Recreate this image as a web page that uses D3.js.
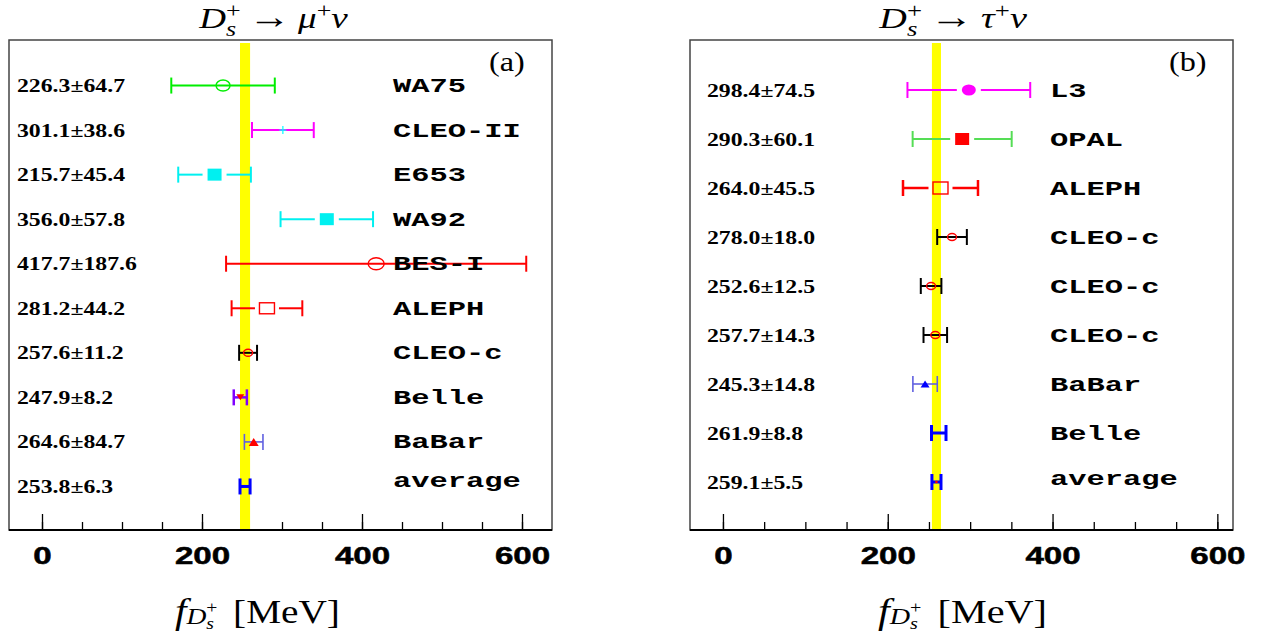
<!DOCTYPE html>
<html><head><meta charset="utf-8">
<script src="https://cdn.jsdelivr.net/npm/d3@7"></script>
<style>body{margin:0;background:#fff}svg{display:block}</style>
</head><body>
<svg id="c" width="1266" height="634"></svg>
<script>
// ---------- data: panel (a)  Ds -> mu nu ----------
const muExperiments = ["WA75","CLEO-II","E653","WA92","BES-I","ALEPH","CLEO-c","Belle","BaBar","average"];
const muValues = [226.3,301.1,215.7,356.0,417.7,281.2,257.6,247.9,264.6,253.8];
const muErrors = [64.7,38.6,45.4,57.8,187.6,44.2,11.2,8.2,11.6,6.3];
const muLabels = ["226.3±64.7","301.1±38.6","215.7±45.4","356.0±57.8","417.7±187.6","281.2±44.2","257.6±11.2","247.9±8.2","264.6±84.7","253.8±6.3"];
const muAverage = [253.8, 6.3];

// ---------- data: panel (b)  Ds -> tau nu ----------
const tauExperiments = ["L3","OPAL","ALEPH","CLEO-c","CLEO-c","CLEO-c","BaBar","Belle","average"];
const tauValues = [298.4,290.3,264.0,278.0,252.6,257.7,245.3,261.9,259.1];
const tauErrors = [74.5,60.1,45.5,18.0,12.5,14.3,14.8,8.8,5.5];
const tauLabels = ["298.4±74.5","290.3±60.1","264.0±45.5","278.0±18.0","252.6±12.5","257.7±14.3","245.3±14.8","261.9±8.8","259.1±5.5"];
const tauAverage = [259.1, 5.5];

const tickValues = [0,200,400,600];
const minorTickValues = [0,50,100,150,200,250,300,350,400,450,500,550,600];

// ---------- styles ----------
const muStyles = [
  {c:"#00ee00", w:2, m:"openCircle", mc:"#00ee00", mw:14, mh:11},
  {c:"#ff00ff", w:2, m:"cross", mc:"#00ffff", mw:7, mh:8},
  {c:"#00f0f0", w:2, m:"filledSquare", mc:"#00f0f0", mw:14, mh:12, gap:true},
  {c:"#00f0f0", w:2, m:"filledSquare", mc:"#00f0f0", mw:14, mh:12, gap:true},
  {c:"#ff0000", w:2, m:"openCircle", mc:"#ff0000", mw:16, mh:12},
  {c:"#ff0000", w:2, m:"openSquare", mc:"#ff0000", mw:15, mh:11, gap:true},
  {c:"#000000", w:2, m:"openCircle", mc:"#ff0000", mw:9, mh:7},
  {c:"#8000ff", w:2.5, m:"triDown", mc:"#ff0000", mw:8, mh:6},
  {c:"#6060e0", w:1.6, m:"triUp", mc:"#ff0000", mw:10, mh:8},
  {c:"#0000ff", w:3, m:"none"}
];
const tauStyles = [
  {c:"#ff00ff", w:2, m:"filledCircle", mc:"#ff00ff", mw:14, mh:11, gap:true},
  {c:"#55dd55", w:2, m:"filledSquare", mc:"#ff0000", mw:14, mh:12, gap:true},
  {c:"#ff0000", w:2.5, m:"openSquare", mc:"#ff0000", mw:15, mh:12, gap:true},
  {c:"#000000", w:2, m:"openCircle", mc:"#ff0000", mw:9, mh:7},
  {c:"#000000", w:2, m:"openCircle", mc:"#ff0000", mw:9, mh:7},
  {c:"#000000", w:2, m:"openCircle", mc:"#ff0000", mw:9, mh:7},
  {c:"#6060e0", w:1.6, m:"triUp", mc:"#0000ff", mw:9, mh:7},
  {c:"#0000ff", w:3, m:"none"},
  {c:"#0000ff", w:3, m:"dot", mc:"#ff0000", mw:4, mh:4}
];

const svg = d3.select("#c");
const SERIF = "'Liberation Serif','Times New Roman',serif";

function drawMarker(g, s, cx, cy) {
  const rx = s.mw/2, ry = s.mh/2;
  switch (s.m) {
    case "openCircle":
      g.append("ellipse").attr("cx",cx).attr("cy",cy).attr("rx",rx).attr("ry",ry)
        .attr("fill","none").attr("stroke",s.mc).attr("stroke-width",1.4); break;
    case "filledCircle":
      g.append("ellipse").attr("cx",cx).attr("cy",cy).attr("rx",rx).attr("ry",ry).attr("fill",s.mc); break;
    case "filledSquare":
      g.append("rect").attr("x",cx-rx).attr("y",cy-ry).attr("width",s.mw).attr("height",s.mh).attr("fill",s.mc); break;
    case "openSquare":
      g.append("rect").attr("x",cx-rx).attr("y",cy-ry).attr("width",s.mw).attr("height",s.mh)
        .attr("fill","none").attr("stroke",s.mc).attr("stroke-width",1.4); break;
    case "triUp":
      g.append("path").attr("d",`M${cx-rx},${cy+ry}L${cx+rx},${cy+ry}L${cx},${cy-ry}Z`).attr("fill",s.mc); break;
    case "triDown":
      g.append("path").attr("d",`M${cx-rx},${cy-ry}L${cx+rx},${cy-ry}L${cx},${cy+ry}Z`).attr("fill",s.mc); break;
    case "cross":
      g.append("line").attr("x1",cx-rx).attr("x2",cx+rx).attr("y1",cy).attr("y2",cy).attr("stroke",s.mc).attr("stroke-width",1.2);
      g.append("line").attr("x1",cx).attr("x2",cx).attr("y1",cy-ry).attr("y2",cy+ry).attr("stroke",s.mc).attr("stroke-width",1.2); break;
    case "dot":
      g.append("circle").attr("cx",cx).attr("cy",cy).attr("r",rx/1.5).attr("fill",s.mc); break;
  }
}

// math-text layout (one <text>, tspans) with sub/superscript stacks, fitted to a target width
function mathText(parent, pieces, size, x0, x1, baseline) {
  const g = parent.append("g");
  const text = g.append("text").attr("font-family",SERIF).attr("fill","#000");
  let x = 0, stackX = null, stackW = 0;
  pieces.forEach(p => {
    if (p.space) { x += p.space*size; return; }
    const fs = size*(p.size||1);
    const startX = (p.stack === "cont") ? stackX : x;
    const t = text.append("tspan").attr("x",startX).attr("y",(p.dy||0)*size)
      .attr("font-size",fs).attr("font-style",p.it?"italic":"normal").text(p.t);
    const w = t.node().getComputedTextLength();
    if (p.stack === "start") { stackX = x; stackW = w; x = stackX + w; }
    else if (p.stack === "cont") { stackW = Math.max(stackW, w); x = stackX + stackW; }
    else x += w;
  });
  const bb = g.node().getBBox();
  const k = (x1 - x0) / bb.width;
  g.attr("transform",`translate(${x0 - bb.x*k},${baseline}) scale(${k},1)`);
}

function drawPanel(cfg) {
  const g = svg.append("g");
  const n = cfg.values.length;
  const x = d3.scaleLinear().domain(cfg.xDomain).range([cfg.left, cfg.right]);
  const y = d3.scaleLinear().domain([0, n+1]).range([cfg.bottom+1, cfg.top+1]);
  const rowY = i => y(n - i);

  // frame
  g.append("rect").attr("x",cfg.left).attr("y",cfg.top).attr("width",cfg.right-cfg.left)
    .attr("height",cfg.bottom-cfg.top).attr("fill","none").attr("stroke","#444").attr("stroke-width",1.5);

  // ticks
  const minor = d3.axisBottom(x).tickValues(minorTickValues).tickSize(-8).tickFormat("");
  g.append("g").attr("transform",`translate(0,${cfg.bottom})`).call(minor)
    .call(a => a.select(".domain").remove())
    .selectAll("line").attr("stroke","#000").attr("stroke-width",1.3);
  const major = d3.axisBottom(x).tickValues(tickValues).tickSize(-16).tickPadding(17).tickFormat(d3.format("d"));
  const ax = g.append("g").attr("transform",`translate(0,${cfg.bottom})`).call(major)
    .call(a => a.select(".domain").remove());
  ax.selectAll("line").attr("stroke","#000").attr("stroke-width",1.3);
  ax.selectAll("text").attr("font-family","'Liberation Sans',Arial,sans-serif").attr("font-weight","bold")
    .attr("font-size",24).attr("fill","#000").attr("stroke","#000").attr("stroke-width",0.5)
    .attr("transform","scale(1.38,1)");

  // yellow average band
  g.append("rect").attr("x",x(cfg.average[0]-cfg.average[1])).attr("y",cfg.top+3)
    .attr("width",x(cfg.average[0]+cfg.average[1])-x(cfg.average[0]-cfg.average[1]))
    .attr("height",cfg.bottom-cfg.top-3).attr("fill","#ffff00");

  // axis line
  g.append("line").attr("x1",cfg.left).attr("x2",cfg.right).attr("y1",cfg.bottom).attr("y2",cfg.bottom)
    .attr("stroke","#000").attr("stroke-width",2);

  // error bars
  cfg.values.forEach((v,i) => {
    const s = cfg.styles[i], e = cfg.errors[i], cy = rowY(i);
    const xl = x(v-e), xr = x(v+e), cx = x(v);
    const gap = s.gap ? 12 : 0;
    const seg = (a,b) => { if (b > a) g.append("line").attr("x1",a).attr("x2",b).attr("y1",cy).attr("y2",cy)
        .attr("stroke",s.c).attr("stroke-width",s.w); };
    if (gap) { seg(xl, cx-gap); seg(cx+gap, xr); } else seg(xl, xr);
    [xl, xr].forEach(xx => g.append("line").attr("x1",xx).attr("x2",xx).attr("y1",cy-8).attr("y2",cy+8)
        .attr("stroke",s.c).attr("stroke-width",s.w));
    drawMarker(g, s, cx, cy);
  });

  // texts
  cfg.labels.forEach((t,i) => {
    const cy = rowY(i);
    g.append("text").attr("transform",`translate(${cfg.valueX},${cy+6.5}) scale(1.25,1)`)
      .attr("font-family",SERIF).attr("font-weight","bold").attr("font-size",19).attr("fill","#000").text(t);
    const name = cfg.names[i];
    const dy = name === "average" ? cfg.avgDy : 6.5;
    g.append("text").attr("transform",`translate(${cfg.nameX},${cy+dy}) scale(1.45,1)`)
      .attr("font-family","'Liberation Mono','Courier New',monospace").attr("font-weight","bold")
      .attr("font-size",21).attr("fill","#000").text(name);
  });

  g.append("text").attr("transform",`translate(${cfg.letterX},71) scale(1.15,1)`)
    .attr("font-family",SERIF).attr("font-size",28).attr("fill","#000").text(cfg.letter);

  // title
  mathText(g, [
    {t:"D", it:true},
    {t:"+", size:0.7, dy:-0.36, stack:"start"},
    {t:"s", it:true, size:0.7, dy:0.26, stack:"cont"},
    {space:0.2},
    {t:"→", size:1.15},
    {space:0.2},
    {t:cfg.lepton, it:true},
    {t:"+", size:0.7, dy:-0.36},
    {t:"ν", it:true}
  ], 29, cfg.titleX[0], cfg.titleX[1], 28);

  // x label
  mathText(g, [
    {t:"f", it:true, size:1.05},
    {t:"D", it:true, size:0.7, dy:0.02},
    {t:"+", size:0.5, dy:-0.3, stack:"start"},
    {t:"s", it:true, size:0.5, dy:0.17, stack:"cont"},
    {space:0.4},
    {t:"[MeV]"}
  ], 34, cfg.xlabelX[0], cfg.xlabelX[1], 623);
}

drawPanel({
  left:9, right:552, top:40, bottom:530, xDomain:[-41.25, 637.5],
  values:muValues, errors:muErrors, labels:muLabels, names:muExperiments, styles:muStyles,
  average:muAverage, valueX:17, nameX:393, avgDy:1, letter:"(a)", letterX:489,
  lepton:"μ", titleX:[198,348], xlabelX:[175,340]
});
drawPanel({
  left:690, right:1233, top:40, bottom:530, xDomain:[-40, 619],
  values:tauValues, errors:tauErrors, labels:tauLabels, names:tauExperiments, styles:tauStyles,
  average:tauAverage, valueX:707, nameX:1050, avgDy:3, letter:"(b)", letterX:1169,
  lepton:"τ", titleX:[878,1027], xlabelX:[878,1047]
});
</script>
</body></html>
